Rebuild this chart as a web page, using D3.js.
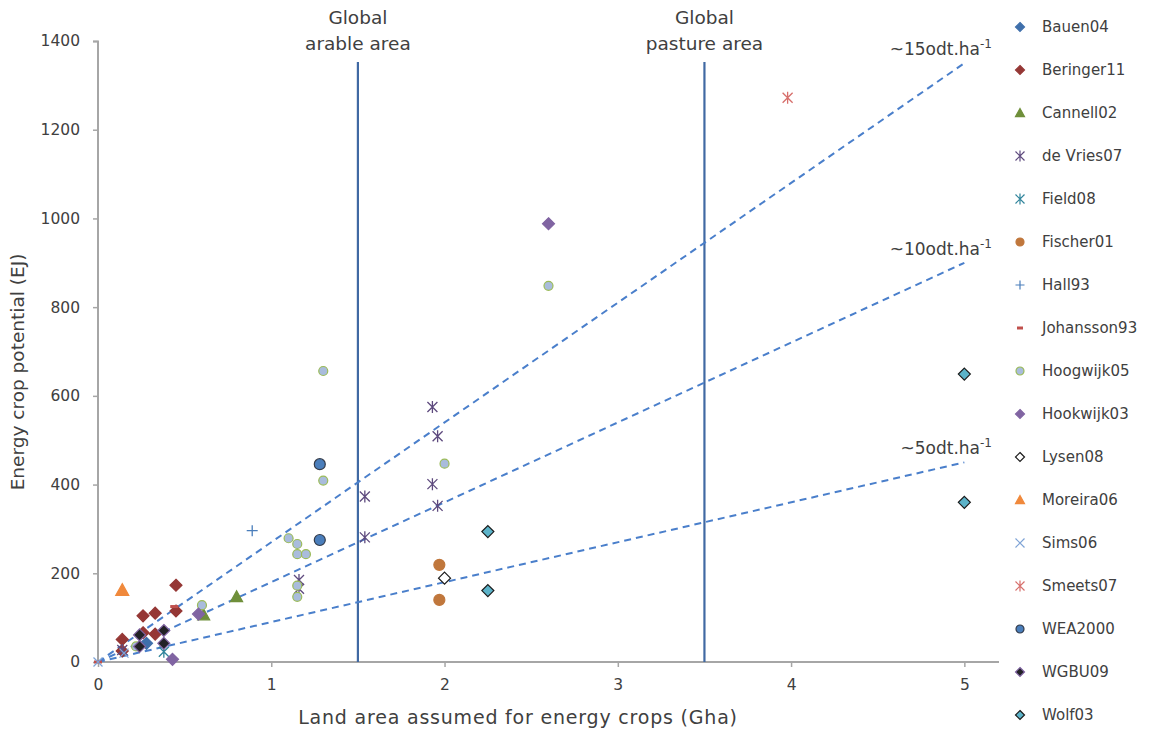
<!DOCTYPE html>
<html>
<head>
<meta charset="utf-8">
<script src="https://cdn.jsdelivr.net/npm/d3@7"></script>
<style>
  body { margin: 0; background: #fff; }
  text { font-family: "DejaVu Sans", Verdana, sans-serif; fill: #404040; }
</style>
</head>
<body>
<div id="chart"></div>
<script>
// Data: [land area (Gha), potential (EJ)]
var bauen04 = [[0.28, 42]];
var beringer11 = [[0.45, 173], [0.26, 104], [0.33, 110], [0.45, 115], [0.26, 66], [0.33, 63], [0.14, 51], [0.14, 25]];
var cannell02 = [[0.61, 106], [0.80, 147]];
var deVries07 = [[0.14, 27], [1.16, 185], [1.16, 165], [1.54, 373], [1.54, 281], [1.93, 575], [1.96, 509], [1.93, 401], [1.96, 352]];
var field08 = [[0.38, 23]];
var fischer01 = [[1.97, 219], [1.97, 140]];
var hall93 = [[0.89, 296]];
var johansson93 = [[0.44, 125], [0, 0]];
var hoogwijk05 = [[0.22, 35], [0.60, 128], [1.10, 279], [1.15, 266], [1.15, 243], [1.20, 243], [1.15, 172], [1.15, 147], [1.30, 656], [1.30, 409], [2.00, 447], [2.60, 848]];
var hookwijk03 = [[0.43, 6], [0.58, 108], [2.60, 988]];
var lysen08 = [[2.00, 189]];
var moreira06 = [[0.14, 162]];
var sims06 = [[0, 0], [0.15, 20]];
var smeets07 = [[3.98, 1272]];
var wea2000 = [[1.28, 446], [1.28, 275]];
var wgbu09 = [[0.24, 61], [0.24, 35], [0.38, 71], [0.38, 42]];
var wolf03 = [[2.25, 294], [2.25, 161], [5, 649], [5, 360]];

var seriesNames = ["Bauen04", "Beringer11", "Cannell02", "de Vries07", "Field08", "Fischer01", "Hall93",
    "Johansson93", "Hoogwijk05", "Hookwijk03", "Lysen08", "Moreira06", "Sims06", "Smeets07",
    "WEA2000", "WGBU09", "Wolf03"];
var seriesData = [bauen04, beringer11, cannell02, deVries07, field08, fischer01, hall93,
    johansson93, hoogwijk05, hookwijk03, lysen08, moreira06, sims06, smeets07,
    wea2000, wgbu09, wolf03];

// trend lines (EJ per Gha) and reference areas
var trendSlopes = [270, 180, 90];
var trendLabels = ["~15odt.ha", "~10odt.ha", "~5odt.ha"];
var refAreas = [1.5, 3.5];
var refLabels = [["Global", "arable area"], ["Global", "pasture area"]];

var xTicks = [0, 1, 2, 3, 4, 5];
var yTicks = [0, 200, 400, 600, 800, 1000, 1200, 1400];

// marker style for each series
var markerStyle = {
    "Bauen04": { shape: "diamond", fill: "#3f6fab", stroke: "#3f6fab", r: 6 },
    "Beringer11": { shape: "diamond", fill: "#953735", stroke: "#953735", r: 6 },
    "Cannell02": { shape: "triangle", fill: "#6f8f3a", stroke: "#6f8f3a", r: 6 },
    "de Vries07": { shape: "asterisk", fill: "none", stroke: "#5e4a7e", r: 5 },
    "Field08": { shape: "asterisk", fill: "none", stroke: "#31859c", r: 5 },
    "Fischer01": { shape: "circle", fill: "#c0773c", stroke: "#c0773c", r: 5.5 },
    "Hall93": { shape: "plus", fill: "none", stroke: "#4a7ebb", r: 5.5 },
    "Johansson93": { shape: "dash", fill: "none", stroke: "#c0504d", r: 4 },
    "Hoogwijk05": { shape: "circle", fill: "#a9bcdc", stroke: "#9bbb59", r: 4.5 },
    "Hookwijk03": { shape: "diamond", fill: "#8064a2", stroke: "#8064a2", r: 6 },
    "Lysen08": { shape: "diamond", fill: "#ffffff", stroke: "#1a1a1a", r: 6 },
    "Moreira06": { shape: "triangle", fill: "#f0893c", stroke: "#f0893c", r: 6.5 },
    "Sims06": { shape: "x", fill: "none", stroke: "#7ea3d6", r: 4.5 },
    "Smeets07": { shape: "asterisk", fill: "none", stroke: "#d76f6c", r: 5 },
    "WEA2000": { shape: "circle", fill: "#4a7ebb", stroke: "#333b4a", r: 5.5 },
    "WGBU09": { shape: "diamond", fill: "#222226", stroke: "#8064a2", r: 6 },
    "Wolf03": { shape: "diamond", fill: "#5cb3c9", stroke: "#1a1a1a", r: 6 }
};

function markerPath(shape, r) {
    var p = d3.path();
    if (shape === "diamond") {
        p.moveTo(0, -r); p.lineTo(r, 0); p.lineTo(0, r); p.lineTo(-r, 0); p.closePath();
    } else if (shape === "triangle") {
        p.moveTo(0, -r); p.lineTo(r, r * 0.8); p.lineTo(-r, r * 0.8); p.closePath();
    } else if (shape === "circle") {
        p.arc(0, 0, r, 0, 2 * Math.PI);
    } else if (shape === "plus") {
        p.moveTo(-r, 0); p.lineTo(r, 0); p.moveTo(0, -r); p.lineTo(0, r);
    } else if (shape === "x") {
        p.moveTo(-r, -r); p.lineTo(r, r); p.moveTo(-r, r); p.lineTo(r, -r);
    } else if (shape === "asterisk") {
        p.moveTo(-r, -r); p.lineTo(r, r); p.moveTo(-r, r); p.lineTo(r, -r);
        p.moveTo(0, -r * 1.2); p.lineTo(0, r * 1.2);
    } else if (shape === "dash") {
        p.moveTo(-r, 0); p.lineTo(r, 0);
    }
    return p.toString();
}

var svgWidth = 1152;
var svgHeight = 731;
var margin = { top: 41, right: 153, bottom: 69, left: 98 };
var chartWidth = svgWidth - margin.left - margin.right;
var chartHeight = svgHeight - margin.top - margin.bottom;

var svg = d3.select("#chart").append("svg")
    .attr("width", svgWidth)
    .attr("height", svgHeight);

var chartGroup = svg.append("g")
    .attr("transform", `translate(${margin.left}, ${margin.top})`);

var xScale = d3.scaleLinear().domain([0, 5.2]).range([0, chartWidth]);
var yScale = d3.scaleLinear().domain([0, 1400]).range([chartHeight, 0]);

// axes
var bottomAxis = d3.axisBottom(xScale).tickValues(xTicks).tickFormat(d3.format("d")).tickSize(5).tickPadding(12);
var leftAxis = d3.axisLeft(yScale).tickValues(yTicks).tickFormat(d3.format("d")).tickSize(5).tickPadding(13);

var xAxisG = chartGroup.append("g")
    .attr("transform", `translate(0, ${chartHeight})`)
    .call(bottomAxis);
var yAxisG = chartGroup.append("g").call(leftAxis);

[xAxisG, yAxisG].forEach(function (g) {
    g.select(".domain").attr("stroke", "#a6a6a6").attr("stroke-width", 2);
    g.selectAll(".tick line").attr("stroke", "#a6a6a6").attr("stroke-width", 1.5);
    g.selectAll(".tick text")
        .style("font-family", "DejaVu Sans, sans-serif")
        .style("font-size", "15.5px")
        .attr("fill", "#404040");
});
yAxisG.select(".domain").attr("d", `M-5,0.5H0V${chartHeight}`);
xAxisG.select(".domain").attr("d", `M0,0H${chartWidth}`);

// vertical reference lines
refAreas.forEach(function (a, i) {
    chartGroup.append("line")
        .attr("x1", xScale(a)).attr("x2", xScale(a))
        .attr("y1", 62 - margin.top).attr("y2", chartHeight)
        .attr("stroke", "#4069a3")
        .attr("stroke-width", 2.2);
    refLabels[i].forEach(function (t, j) {
        chartGroup.append("text")
            .attr("x", xScale(a))
            .attr("y", 24 - margin.top + j * 26)
            .attr("text-anchor", "middle")
            .style("font-size", "18.5px")
            .text(t);
    });
});

// dashed trend lines
trendSlopes.forEach(function (s, i) {
    chartGroup.append("line")
        .attr("x1", xScale(0)).attr("y1", yScale(0))
        .attr("x2", xScale(5)).attr("y2", yScale(s * 5))
        .attr("stroke", "#4a7fcb")
        .attr("stroke-width", 2)
        .attr("stroke-dasharray", "7,5");
    var lbl = chartGroup.append("text")
        .attr("x", 992 - margin.left)
        .attr("y", yScale(s * 5) - 8)
        .attr("text-anchor", "end")
        .style("font-size", "17px");
    lbl.append("tspan").text(trendLabels[i]);
    lbl.append("tspan").attr("dy", -7).style("font-size", "12px").text("-1");
});

// points
seriesData.forEach(function (pts, i) {
    var st = markerStyle[seriesNames[i]];
    var isLine = st.fill === "none";
    chartGroup.selectAll(null)
        .data(pts)
        .enter()
        .append("path")
        .attr("transform", d => `translate(${xScale(d[0])}, ${yScale(d[1])})`)
        .attr("d", markerPath(st.shape, st.r))
        .attr("fill", st.fill)
        .attr("stroke", st.stroke)
        .attr("stroke-width", st.shape === "dash" ? 3 : (isLine ? 1.3 : 1.2));
});

// legend
var legendGroup = svg.append("g").attr("transform", "translate(1020, 27)");
seriesNames.forEach(function (name, i) {
    var st = markerStyle[name];
    var row = legendGroup.append("g").attr("transform", `translate(0, ${i * 43})`);
    row.append("path")
        .attr("d", markerPath(st.shape, st.shape === "circle" ? 4 : (st.shape === "dash" ? 3 : 4.5)))
        .attr("fill", st.fill)
        .attr("stroke", st.stroke)
        .attr("stroke-width", st.shape === "dash" ? 3 : 1.2);
    row.append("text")
        .attr("x", 22)
        .attr("y", 5)
        .style("font-size", "15px")
        .text(name);
});

// axis titles
svg.append("text")
    .attr("x", 518)
    .attr("y", 724)
    .attr("text-anchor", "middle")
    .style("font-size", "19px")
    .style("letter-spacing", "0.8px")
    .text("Land area assumed for energy crops (Gha)");

svg.append("text")
    .attr("transform", "rotate(-90)")
    .attr("x", -372)
    .attr("y", 24)
    .attr("text-anchor", "middle")
    .style("font-size", "18.5px")
    .text("Energy crop potential (EJ)");
</script>
</body>
</html>
